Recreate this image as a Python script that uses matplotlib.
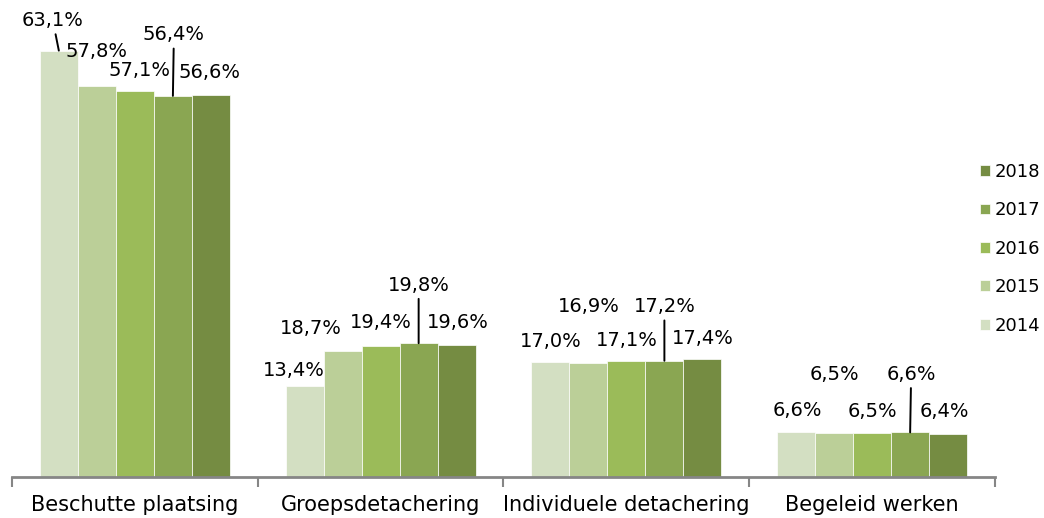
import matplotlib.pyplot as plt
import numpy as np

categories = ['Beschutte plaatsing', 'Groepsdetachering', 'Individuele detachering', 'Begeleid werken']
years = ['2014', '2015', '2016', '2017', '2018']
v2014 = [63.1, 13.4, 17.0, 6.6]
v2015 = [57.8, 18.7, 16.9, 6.5]
v2016 = [57.1, 19.4, 17.1, 6.5]
v2017 = [56.4, 19.8, 17.2, 6.6]
v2018 = [56.6, 19.6, 17.4, 6.4]
series = [v2014, v2015, v2016, v2017, v2018]
colors = ['#d3dfc2', '#bbcf98', '#9bbb59', '#8aa652', '#758c42']

# label offsets in pixels from bar top (dx, dy), per year then category
label_offsets = [
    [(-6, 30), (-11, 16), (0, 21), (1, 22)],
    [(0, 35), (-32, 22), (0, 56), (0, 59)],
    [(5, 21), (0, 23), (0, 21), (0, 22)],
    [(1, 61), (0, 58), (0, 54), (1, 58)],
    [(-1, 22), (1, 22), (0, 21), (-4, 22)],
]
# bars with a leader line (year index, category index)
leaders = {(0, 0), (3, 0), (3, 1), (3, 2), (3, 3)}

plt.rcParams['font.family'] = ['DejaVu Sans']
fig = plt.figure(figsize=(10.44, 5.18), dpi=100)
ax = fig.add_axes([12 / 1044, 41 / 518, 983 / 1044, 473 / 518])

x = np.arange(len(categories))
w = 0.1547
for j, (vals, col, yr) in enumerate(zip(series, colors, years)):
    bars = ax.bar(x + (j - 2) * w, vals, w, color=col, label=yr, edgecolor='white', linewidth=0.5)
    for i, b in enumerate(bars):
        dx, dy = label_offsets[j][i]
        txt = f'{vals[i]:.1f}'.replace('.', ',') + '%'
        xb = b.get_x() + b.get_width() / 2
        if (j, i) in leaders:
            ax.annotate(txt, xy=(xb, vals[i]), xytext=(dx, dy), textcoords='offset pixels',
                        ha='center', va='center', fontsize=14,
                        arrowprops=dict(arrowstyle='-', color='black', lw=1.4, shrinkA=1, shrinkB=0))
        else:
            ax.annotate(txt, xy=(xb, vals[i]), xytext=(dx, dy), textcoords='offset pixels',
                        ha='center', va='center', fontsize=14)

ax.set_xlim(-0.5, 3.5)
ax.set_ylim(0, 70)
ax.set_yticks([])
for s in ['top', 'right', 'left']:
    ax.spines[s].set_visible(False)
ax.spines['bottom'].set_color('#868686')
ax.spines['bottom'].set_linewidth(2)
ax.set_xticks(x)
ax.set_xticklabels(categories, fontsize=15)
ax.tick_params(axis='x', which='major', length=0, pad=13)
ax.set_xticks(np.arange(-0.5, 4.0, 1.0), minor=True)
ax.tick_params(axis='x', which='minor', length=7, width=1.5, color='#868686')

h, l = ax.get_legend_handles_labels()
ax.legend(h[::-1], l[::-1], loc='upper left', bbox_to_anchor=(980 / 1044, (518 - 163) / 518),
          bbox_transform=fig.transFigure, frameon=False, fontsize=13,
          handlelength=0.55, handleheight=0.55, handletextpad=0.28, labelspacing=1.13,
          borderpad=0, borderaxespad=0)

plt.savefig('out.png', dpi=100)
plt.close()
